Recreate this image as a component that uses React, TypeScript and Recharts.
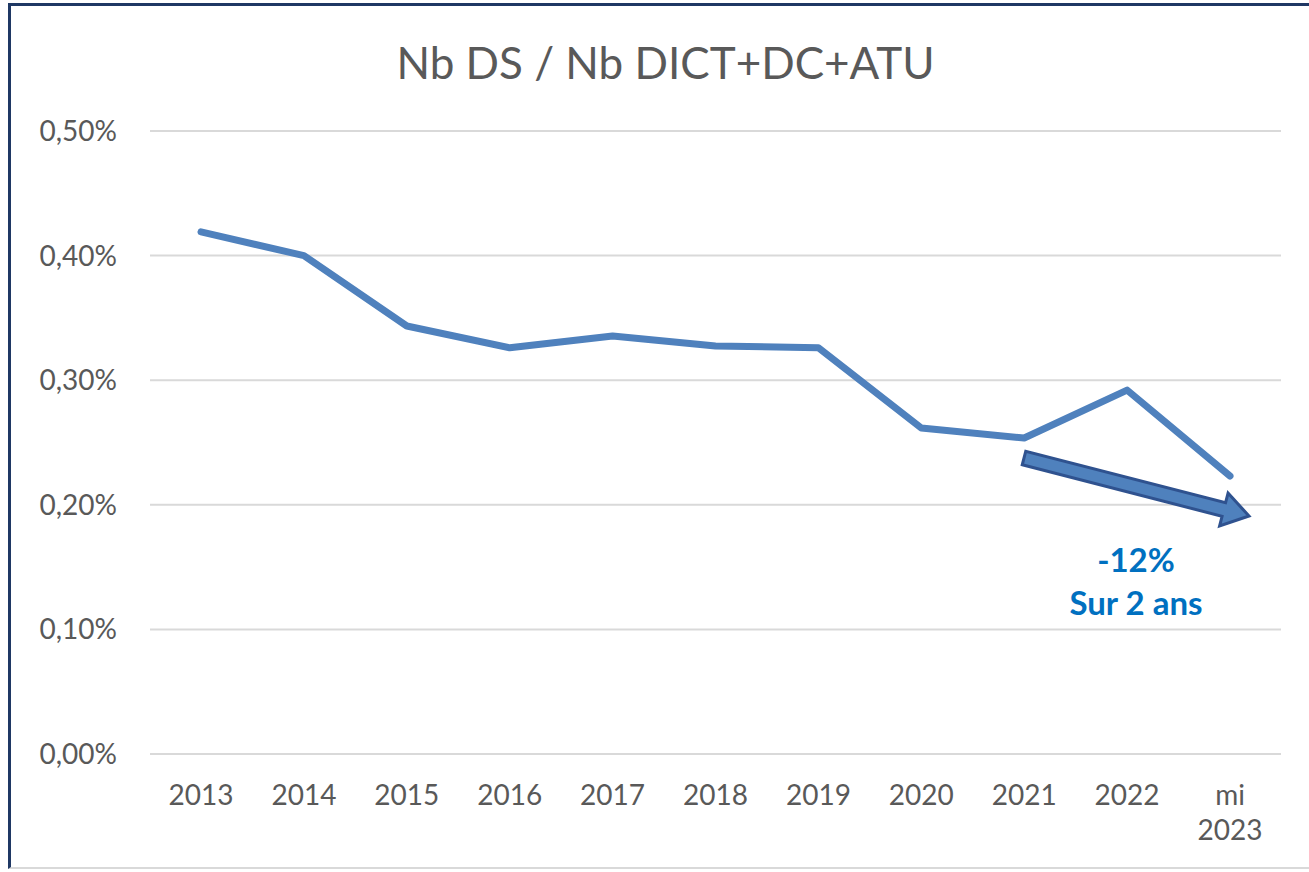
import { CartesianGrid, Line, LineChart, XAxis, YAxis } from "recharts";

const years = ["2013", "2014", "2015", "2016", "2017", "2018", "2019", "2020", "2021", "2022", "mi\n2023"];
const ratio = [0.419, 0.4, 0.3435, 0.326, 0.3355, 0.3275, 0.326, 0.2617, 0.2536, 0.292, 0.2231];
const yTicks = [0, 0.1, 0.2, 0.3, 0.4, 0.5];

const data = years.map((year, i) => ({ year, ratio: ratio[i] }));

const FONT = "Lato, 'Open Sans', sans-serif";
const GREY = "#595959";

const fmtPct = (v: number) => v.toFixed(2).replace(".", ",") + "%";

function XTick({ x, y, payload }: any) {
  const lines = String(payload.value).split("\n");
  return (
    <text x={x} y={y} textAnchor="middle" fill={GREY} fontSize={28} fontFamily={FONT}>
      {lines.map((l, i) => (
        <tspan key={i} x={x} dy={i === 0 ? 43 : 35}>
          {l}
        </tspan>
      ))}
    </text>
  );
}

function YTick({ x, y, payload }: any) {
  return (
    <text x={x} y={y} dy={10} textAnchor="end" fill={GREY} fontSize={28} fontFamily={FONT}>
      {fmtPct(payload.value)}
    </text>
  );
}

export default function App() {
  // arrow: 2021 -> past mi 2023
  const x0 = 1024, y0 = 458, x1 = 1249, y1 = 516;
  const dx = x1 - x0, dy = y1 - y0;
  const len = Math.hypot(dx, dy);
  const ux = dx / len, uy = dy / len;
  const nx = -uy, ny = ux;
  const shaft = 7, head = 17, headLen = 26;
  const bx = x1 - ux * headLen, by = y1 - uy * headLen;
  const pts = [
    [x0 + nx * shaft, y0 + ny * shaft],
    [bx + nx * shaft, by + ny * shaft],
    [bx + nx * head, by + ny * head],
    [x1, y1],
    [bx - nx * head, by - ny * head],
    [bx - nx * shaft, by - ny * shaft],
    [x0 - nx * shaft, y0 - ny * shaft],
  ]
    .map((p) => p.join(","))
    .join(" ");

  return (
    <div style={{ position: "absolute", left: 0, top: 0, width: 1309, height: 872, background: "#fff", overflow: "hidden" }}>
      <div
        style={{
          position: "absolute",
          left: 8,
          top: 3,
          width: 1309,
          height: 866,
          borderLeft: "3px solid #1f3864",
          borderTop: "3px solid #1f3864",
          borderBottom: "2px solid #d9d9d9",
          boxSizing: "border-box",
        }}
      />
      <div
        style={{
          position: "absolute",
          left: 0,
          top: 36,
          width: 1331,
          textAlign: "center",
          fontFamily: FONT,
          fontSize: 44,
          color: GREY,
        }}
      >
        Nb DS / Nb DICT+DC+ATU
      </div>
      <div style={{ position: "absolute", left: 0, top: 0 }}>
        <LineChart width={1309} height={872} data={data} margin={{ top: 131, right: 28, bottom: 88, left: 0 }}>
          <CartesianGrid vertical={false} stroke="#d9d9d9" strokeWidth={2} />
          <XAxis
            dataKey="year"
            axisLine={false}
            tickLine={false}
            tick={<XTick />}
            interval={0}
            height={30}
            padding={{ left: 51, right: 51 }}
          />
          <YAxis
            domain={[0, 0.5]}
            ticks={yTicks}
            width={150}
            axisLine={false}
            tickLine={false}
            tickSize={0}
            tickMargin={33}
            tick={<YTick />}
          />
          <Line
            type="linear"
            dataKey="ratio"
            stroke="#4f81bd"
            strokeWidth={7}
            strokeLinecap="round"
            strokeLinejoin="round"
            dot={false}
            activeDot={false}
            isAnimationActive={false}
          />
        </LineChart>
      </div>
      <svg width={1309} height={872} style={{ position: "absolute", left: 0, top: 0, pointerEvents: "none" }}>
        <polygon points={pts} fill="#4f81bd" stroke="#2f528f" strokeWidth={3} strokeLinejoin="miter" />
        <text x={1136} y={572} textAnchor="middle" fill="#0070c0" fontSize={33} fontWeight="bold" fontFamily={FONT}>
          -12%
        </text>
        <text x={1136} y={615} textAnchor="middle" fill="#0070c0" fontSize={33} fontWeight="bold" fontFamily={FONT}>
          Sur 2 ans
        </text>
      </svg>
    </div>
  );
}
